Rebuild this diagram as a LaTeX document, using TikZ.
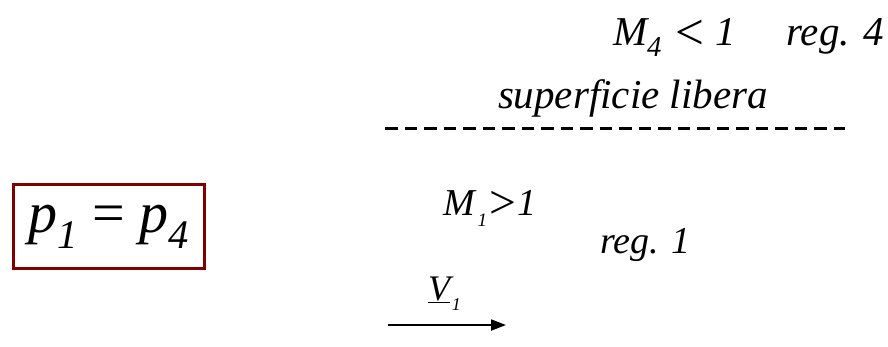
\documentclass[tikz,border=0pt]{standalone}
\usepackage{fontspec}
\setmainfont{Liberation Serif}
\usetikzlibrary{arrows.meta}
\definecolor{boxred}{RGB}{128,0,0}
\newcommand{\lsub}[1]{\raisebox{-0.28em}{\fontsize{0.7em}{0.7em}\selectfont #1}}
\newcommand{\tsub}[1]{\raisebox{-0.3em}{\fontsize{0.5em}{0.5em}\selectfont #1}}
\newcommand{\bigrel}[1]{\raisebox{-0.1em}{\scalebox{1.25}{\upshape #1}}}
\tikzset{
  lbl/.style={inner sep=0pt, outer sep=0pt, font=\fontsize{41}{41}\selectfont\itshape},
  mid/.style={inner sep=0pt, outer sep=0pt, font=\fontsize{38}{38}\selectfont\itshape},
}
\begin{document}
\begin{tikzpicture}[x=1pt,y=-1pt]
\useasboundingbox (0,0) rectangle (888,346);
% top labels
\node[lbl, anchor=base west] (m4) at (613,45) {M\lsub{4}\hspace{0.1em} \bigrel{<} 1};
\node[lbl, anchor=base east] (reg4) at (884,45) {reg. 4};
\node[lbl, anchor=base west] (sup) at (498,108) {superficie libera};
% free surface
\coordinate (dA) at (385,128);
\coordinate (dB) at (845,128);
\draw[line width=3pt, dash pattern=on 12.5pt off 7pt] (dA) -- (dB);
% region 1
\node[mid, anchor=base west] (m1) at (443,215) {M\hspace{0.08em}\tsub{1}\hspace{0.05em}\bigrel{>}\hspace{0.05em}1};
\node[mid, anchor=base west] (reg1) at (600,253) {reg. 1};
% velocity
\node[anchor=base west, inner sep=0pt, font=\fontsize{36}{36}\selectfont\itshape] (v1) at (428,300) {\underline{V}\hspace{0.05em}\tsub{1}};
\coordinate (aA) at (388,325);
\coordinate (aB) at (506,325);
\draw[line width=2pt, -{Triangle[length=15pt,width=11pt]}] (aA) -- (aB);
% box
\node[draw=boxred, line width=3pt, minimum width=191pt, minimum height=84pt, inner sep=0pt,
      font=\fontsize{58}{58}\selectfont\itshape] (eq) at (108.5,226.5) {p\lsub{1} \upshape= \itshape p\lsub{4}};
\end{tikzpicture}
\end{document}
